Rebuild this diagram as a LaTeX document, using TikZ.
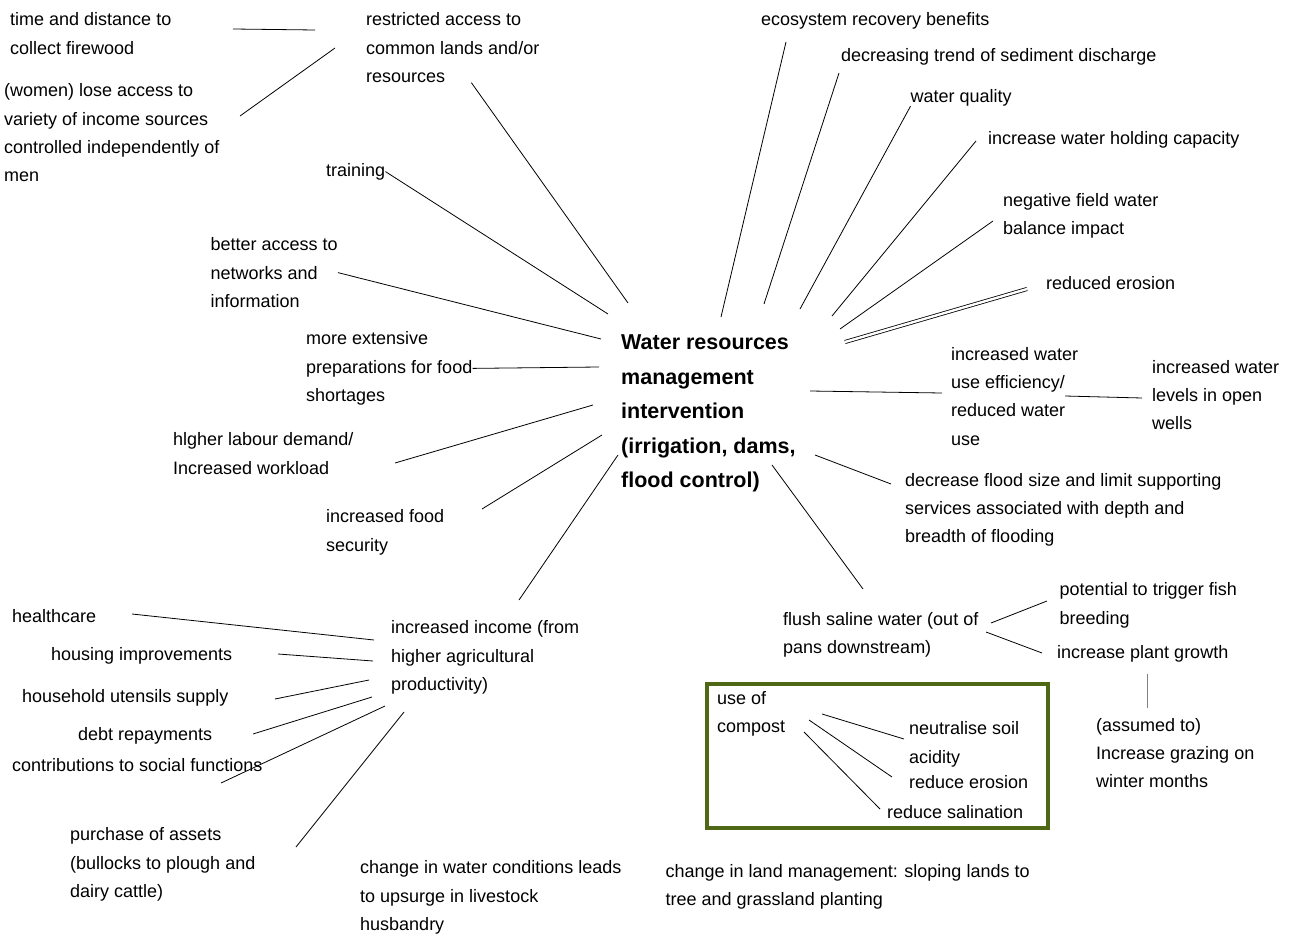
\documentclass[tikz,border=0pt]{standalone}
\usepackage{fontspec}
\setmainfont{Liberation Sans}
\usepackage{tikz}
\usepackage{xcolor}
\definecolor{compostgreen}{RGB}{79,104,22}

\begin{document}
\begin{tikzpicture}[x=1pt,y=-1pt,
  lbl/.style={anchor=north west,inner sep=0pt,align=left,font=\fontsize{18}{28.3}\selectfont},
  hubtxt/.style={lbl,font=\fontsize{21.5}{34.5}\selectfont\bfseries},
  link/.style={line width=0.8pt},
  compostframe/.style={draw=compostgreen,line width=4pt}]
\useasboundingbox (0,0) rectangle (1291,934);

\node[lbl] (wood) at (10,12.5) {time and distance to\\collect firewood};
\node[lbl] (women) at (4,83.5) {(women) lose access to\\variety of income sources\\controlled independently of\\men};
\node[lbl] (restrict) at (366,12.5) {restricted access to\\common lands and/or\\resources};
\node[lbl] (train) at (326,163) {training};
\node[lbl] (network) at (210.5,237.5) {better access to\\networks and\\information};
\node[lbl] (prep) at (306,331.5) {more extensive\\preparations for food\\shortages};
\node[lbl] (labour) at (173,432.5) {hlgher labour demand/\\Increased workload};
\node[lbl] (food) at (326,509.5) {increased food\\security};
\node[lbl] (income) at (391,620.5) {increased income (from\\higher agricultural\\productivity)};
\node[lbl] (health) at (12,609) {healthcare};
\node[lbl] (housing) at (51,647) {housing improvements};
\node[lbl] (utensil) at (22,689) {household utensils supply};
\node[lbl] (debt) at (78,727.5) {debt repayments};
\node[lbl] (social) at (12,758) {contributions to social functions};
\node[lbl] (assets) at (70,827.5) {purchase of assets\\(bullocks to plough and\\dairy cattle)};
\node[lbl] (livestock) at (360,860.5) {change in water conditions leads\\to upsurge in livestock\\husbandry};

\node[hubtxt] (hub) at (621,335) {Water resources\\management\\intervention\\(irrigation, dams,\\flood control)};

\node[lbl] (eco) at (761,12.5) {ecosystem recovery benefits};
\node[lbl] (sediment) at (841,48) {decreasing trend of sediment discharge};
\node[lbl] (quality) at (910.5,89) {water quality};
\node[lbl] (holding) at (988,131.5) {increase water holding capacity};
\node[lbl] (negative) at (1003,193) {negative field water\\balance impact};
\node[lbl] (erosion) at (1046,276.5) {reduced erosion};
\node[lbl] (efficiency) at (951,347) {increased water\\use efficiency/\\reduced water\\use};
\node[lbl] (wells) at (1152,360) {increased water\\levels in open\\wells};
\node[lbl] (flood) at (905,473) {decrease flood size and limit supporting\\services associated with depth and\\breadth of flooding};
\node[lbl] (flush) at (783,612) {flush saline water (out of\\pans downstream)};
\node[lbl] (fish) at (1059.5,582.5) {potential to trigger fish\\breeding};
\node[lbl] (plant) at (1057,645) {increase plant growth};
\node[lbl] (grazing) at (1096,718) {(assumed to)\\Increase grazing on\\winter months};
\node[lbl] (compost) at (717,691) {use of\\compost};
\node[lbl] (acidity) at (909,721.5) {neutralise soil\\acidity};
\node[lbl] (lesserosion) at (909,775) {reduce erosion};
\node[lbl] (salination) at (887,805) {reduce salination};
\node[lbl] (land) at (665.5,864) {change in land management: sloping lands to\\tree and grassland planting};

\draw[compostframe] (707,684) rectangle (1048,828);

\coordinate (h-restrict) at (628,303);
\coordinate (h-train) at (608,314);
\coordinate (h-network) at (601,339);
\coordinate (h-prep) at (599,367);
\coordinate (h-labour) at (593,405);
\coordinate (h-food) at (602,435);
\coordinate (h-income) at (618,455);
\coordinate (h-eco) at (721,317);
\coordinate (h-sediment) at (764,304);
\coordinate (h-quality) at (800,309);
\coordinate (h-holding) at (832,316);
\coordinate (h-negative) at (840,329);
\coordinate (h-erosion) at (845,342);
\coordinate (h-efficiency) at (810,391);
\coordinate (h-flood) at (815,455);
\coordinate (h-flush) at (772,465);

\coordinate (labour-out) at (395,463);
\coordinate (food-out) at (482,509);
\coordinate (income-up) at (519,600);
\coordinate (eco-out) at (786,42);
\coordinate (sediment-out) at (839,73);
\coordinate (holding-out) at (976,141);
\coordinate (negative-out) at (993,221);
\coordinate (erosion-out) at (1027,289);
\coordinate (efficiency-in) at (942,393);
\coordinate (efficiency-out) at (1065,396);
\coordinate (wells-in) at (1142,398);
\coordinate (flood-in) at (891,484);
\coordinate (flush-in) at (863,589);
\coordinate (flush-fish) at (991,623);
\coordinate (fish-in) at (1047,601);
\coordinate (flush-plant) at (986,632);
\coordinate (plant-in) at (1042,653);
\coordinate (plant-down) at (1147,674);
\coordinate (grazing-up) at (1147,708);
\coordinate (restrict-wood) at (315,30);
\coordinate (wood-in) at (233,29);
\coordinate (restrict-women) at (335,48);
\coordinate (women-in) at (240,116);
\coordinate (compost-a) at (822,714);
\coordinate (acidity-in) at (904,739);
\coordinate (compost-b) at (809,720);
\coordinate (lesserosion-in) at (892,777);
\coordinate (compost-c) at (804,732);
\coordinate (salination-in) at (880,809);
\coordinate (income-a) at (374,640);
\coordinate (health-in) at (132,614);
\coordinate (income-b) at (373,661);
\coordinate (housing-in) at (278,654);
\coordinate (income-c) at (369,680);
\coordinate (utensil-in) at (275,699);
\coordinate (income-d) at (372,697);
\coordinate (debt-in) at (253,734);
\coordinate (income-e) at (385,706);
\coordinate (social-in) at (221,783);
\coordinate (income-f) at (404,712);
\coordinate (assets-in) at (296,847);

\draw[link] (restrict.-62) -- (h-restrict);
\draw[link] (train.east) -- (h-train);
\draw[link] (network.east) -- (h-network);
\draw[link] (prep.east) -- (h-prep);
\draw[link] (labour-out) -- (h-labour);
\draw[link] (food-out) -- (h-food);
\draw[link] (income-up) -- (h-income);
\draw[link] (eco-out) -- (h-eco);
\draw[link] (sediment-out) -- (h-sediment);
\draw[link] (quality.south west) -- (h-quality);
\draw[link] (holding-out) -- (h-holding);
\draw[link] (negative-out) -- (h-negative);
\draw[link,double,double distance=2.4pt] (erosion-out) -- (h-erosion);
\draw[link] (h-efficiency) -- (efficiency-in);
\draw[link] (efficiency-out) -- (wells-in);
\draw[link] (h-flood) -- (flood-in);
\draw[link] (h-flush) -- (flush-in);
\draw[link] (flush-fish) -- (fish-in);
\draw[link] (flush-plant) -- (plant-in);
\draw[link,gray] (plant-down) -- (grazing-up);
\draw[link] (restrict-wood) -- (wood-in);
\draw[link] (restrict-women) -- (women-in);
\draw[link] (compost-a) -- (acidity-in);
\draw[link] (compost-b) -- (lesserosion-in);
\draw[link] (compost-c) -- (salination-in);
\draw[link] (income-a) -- (health-in);
\draw[link] (income-b) -- (housing-in);
\draw[link] (income-c) -- (utensil-in);
\draw[link] (income-d) -- (debt-in);
\draw[link] (income-e) -- (social-in);
\draw[link] (income-f) -- (assets-in);
\end{tikzpicture}
\end{document}
